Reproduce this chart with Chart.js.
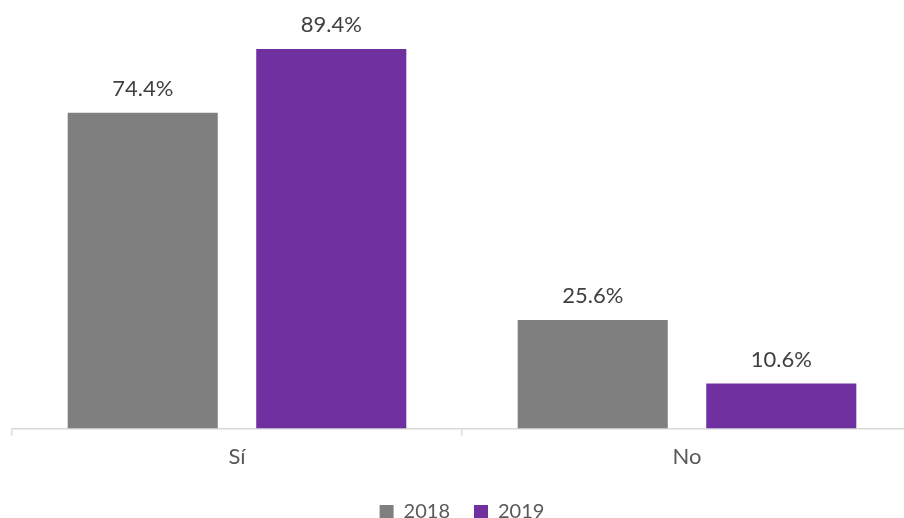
<!DOCTYPE html>
<html>
<head>
<meta charset="utf-8">
<script src="https://cdn.jsdelivr.net/npm/chart.js@4/dist/chart.umd.min.js"></script>
<style>
  html, body { margin: 0; padding: 0; background: #ffffff; overflow: hidden; width: 904px; height: 518px; }
  #wrap { position: absolute; left: 0; top: 0; width: 924px; height: 532px; }
</style>
</head>
<body>
<div id="wrap"><canvas id="c"></canvas></div>
<script>
const categories = ['Sí', 'No'];
const seriesNames = ['2018', '2019'];
const values2018 = [74.4, 25.6];
const values2019 = [89.4, 10.6];
const yMax = 100;

const FONT = 'Lato, "Open Sans", sans-serif';

const labelPlugin = {
  id: 'barValueLabels',
  afterDatasetsDraw(chart) {
    const ctx = chart.ctx;
    ctx.save();
    ctx.font = '22px ' + FONT;
    ctx.fillStyle = '#404040';
    ctx.textAlign = 'center';
    ctx.textBaseline = 'alphabetic';
    chart.data.datasets.forEach((ds, i) => {
      const meta = chart.getDatasetMeta(i);
      meta.data.forEach((bar, j) => {
        ctx.fillText(ds.data[j].toFixed(1) + '%', bar.x, bar.y - 17);
      });
    });
    ctx.restore();
  }
};

new Chart(document.getElementById('c'), {
  type: 'bar',
  data: {
    labels: categories,
    datasets: [
      { label: seriesNames[0], data: values2018, backgroundColor: '#7F7F7F' },
      { label: seriesNames[1], data: values2019, backgroundColor: '#7030A0' }
    ]
  },
  options: {
    responsive: true,
    maintainAspectRatio: false,
    animation: false,
    categoryPercentage: 0.838,
    barPercentage: 0.796,
    layout: { padding: { left: 12, right: 12, top: 4, bottom: 0 } },
    plugins: {
      tooltip: { enabled: false },
      legend: {
        position: 'bottom',
        labels: {
          boxWidth: 14,
          boxHeight: 14,
          padding: 24,
          color: '#595959',
          font: { family: FONT, size: 20 }
        }
      }
    },
    scales: {
      y: { display: false, min: 0, max: yMax },
      x: {
        grid: {
          display: true,
          drawOnChartArea: false,
          drawTicks: true,
          tickLength: 7,
          color: '#d9d9d9',
          lineWidth: 1.5,
          offset: true
        },
        border: { display: true, color: '#d9d9d9', width: 1.5 },
        ticks: {
          color: '#595959',
          font: { family: FONT, size: 22 },
          padding: 8
        }
      }
    }
  },
  plugins: [labelPlugin]
});
</script>
</body>
</html>
